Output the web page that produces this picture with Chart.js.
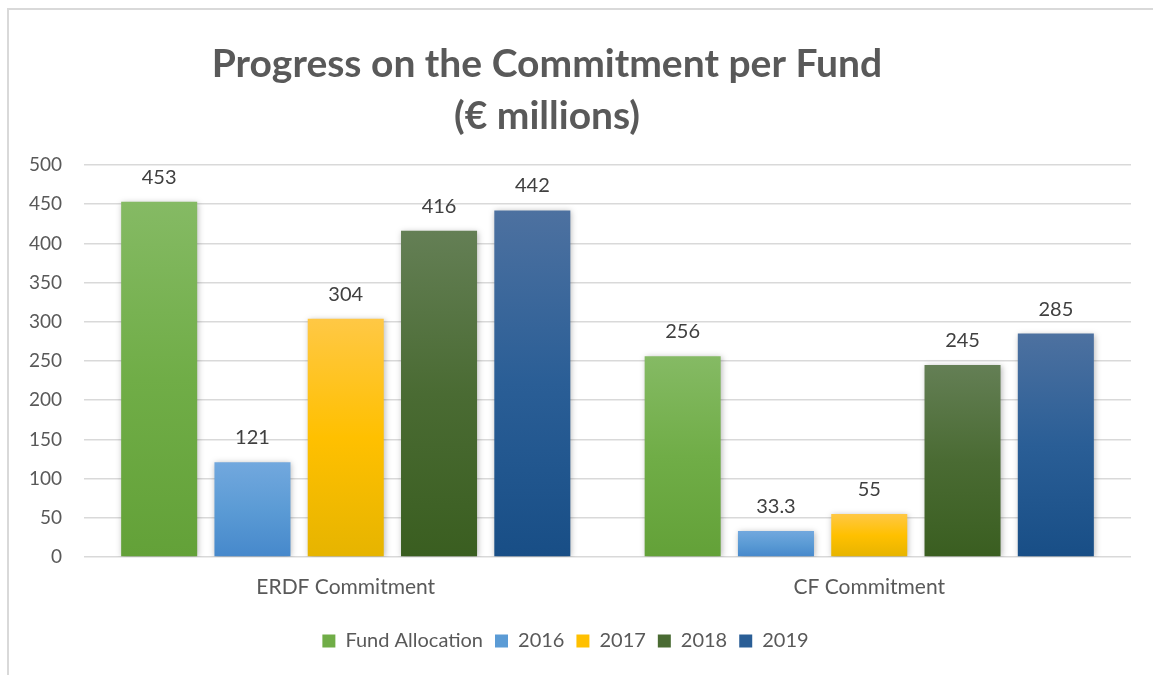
<!DOCTYPE html>
<html>
<head>
<meta charset="utf-8">
<script src="https://cdn.jsdelivr.net/npm/chart.js@4"></script>
<style>
  html, body { margin: 0; padding: 0; background: #ffffff; overflow: hidden; }
  #wrap { position: absolute; left: 0; top: 0; width: 1153px; height: 675px; }
  #frame { position: absolute; left: 7px; top: 8px; width: 1170px; height: 690px; border: 2px solid #d9d9d9; box-sizing: border-box; pointer-events: none; }
</style>
</head>
<body>
<div id="wrap">
  <canvas id="c" width="1153" height="675"></canvas>
  <div id="frame"></div>
</div>
<script>
const categories = ['ERDF Commitment', 'CF Commitment'];
const seriesNames = ['Fund Allocation', '2016', '2017', '2018', '2019'];
const fundAllocation = [453, 256];
const y2016 = [121, 33.3];
const y2017 = [304, 55];
const y2018 = [416, 245];
const y2019 = [442, 285];
const yTicks = [0, 50, 100, 150, 200, 250, 300, 350, 400, 450, 500];
const titleLines = ['Progress on the Commitment per Fund', '(€ millions)'];

const topColors = ['#85ba64', '#72a8de', '#ffc845', '#647f55', '#4d71a0'];
const midColors = ['#70ad47', '#5b9bd5', '#ffc000', '#4a6b33', '#2a5e96'];
const botColors = ['#63a138', '#4688cb', '#e6b400', '#3a5e20', '#184e86'];

function barFill(i) {
  return (c) => {
    const chart = c.chart;
    if (!chart.chartArea || c.type !== 'data') return midColors[i];
    const ys = chart.scales.y;
    const top = ys.getPixelForValue(c.raw);
    const bot = ys.getPixelForValue(0);
    if (!isFinite(top) || !isFinite(bot) || bot - top < 1) return midColors[i];
    const g = chart.ctx.createLinearGradient(0, top, 0, bot);
    g.addColorStop(0, topColors[i]);
    g.addColorStop(0.5, midColors[i]);
    g.addColorStop(1, botColors[i]);
    return g;
  };
}

const seriesData = [fundAllocation, y2016, y2017, y2018, y2019];
const datasets = seriesNames.map((name, i) => ({
  label: name,
  data: seriesData[i],
  backgroundColor: barFill(i),
  borderWidth: 0,
  categoryPercentage: 0.891,
  barPercentage: 0.815
}));

const shadowPlugin = {
  id: 'barShadow',
  beforeDatasetDraw(chart) {
    const ctx = chart.ctx;
    ctx.save();
    ctx.shadowColor = 'rgba(0,0,0,0.28)';
    ctx.shadowBlur = 6;
    ctx.shadowOffsetX = 1;
    ctx.shadowOffsetY = 1;
  },
  afterDatasetDraw(chart) {
    chart.ctx.restore();
  }
};

const valueLabels = {
  id: 'valueLabels',
  afterDatasetsDraw(chart) {
    const ctx = chart.ctx;
    ctx.save();
    ctx.font = '20px Lato';
    ctx.fillStyle = '#404040';
    ctx.textAlign = 'center';
    ctx.textBaseline = 'alphabetic';
    chart.data.datasets.forEach((ds, i) => {
      const meta = chart.getDatasetMeta(i);
      meta.data.forEach((bar, j) => {
        ctx.fillText(String(ds.data[j]), bar.x, bar.y - 18);
      });
    });
    ctx.restore();
  }
};

const titleShift = {
  id: 'titleShift',
  afterLayout(chart) {
    const t = chart.titleBlock;
    if (t) {
      const center = 547;
      const half = 530;
      t.left = center - half;
      t.right = center + half;
    }
  }
};

new Chart(document.getElementById('c'), {
  type: 'bar',
  data: { labels: categories, datasets: datasets },
  plugins: [shadowPlugin, valueLabels, titleShift],
  options: {
    responsive: false,
    animation: false,
    layout: { padding: { left: 0, right: 22, top: 0, bottom: 14 } },
    plugins: {
      title: {
        display: true,
        text: titleLines,
        color: '#595959',
        font: { family: 'Lato', size: 39, weight: 'bold', lineHeight: 1.333 },
        padding: { top: 38, bottom: 23 }
      },
      legend: {
        position: 'bottom',
        labels: {
          color: '#595959',
          font: { family: 'Lato', size: 20 },
          boxWidth: 13,
          boxHeight: 13,
          padding: 12,
          generateLabels(chart) {
            const items = Chart.defaults.plugins.legend.labels.generateLabels(chart);
            items.forEach((it, i) => {
              it.fillStyle = midColors[i];
              it.strokeStyle = midColors[i];
              it.lineWidth = 0;
            });
            return items;
          }
        }
      },
      tooltip: { enabled: false }
    },
    scales: {
      x: {
        grid: { display: false, drawTicks: false },
        border: { display: false },
        ticks: { color: '#595959', font: { family: 'Lato', size: 21 }, padding: 18 },
        afterFit(scale) { scale.height = 62; }
      },
      y: {
        min: 0,
        max: 500,
        afterBuildTicks(scale) { scale.ticks = yTicks.map(v => ({ value: v })); },
        grid: { color: '#d9d9d9', lineWidth: 1.5, drawTicks: false },
        border: { display: false },
        ticks: { color: '#595959', font: { family: 'Lato', size: 19 }, padding: 22 },
        afterFit(scale) { scale.width = 84; }
      }
    }
  }
});
</script>
</body>
</html>
